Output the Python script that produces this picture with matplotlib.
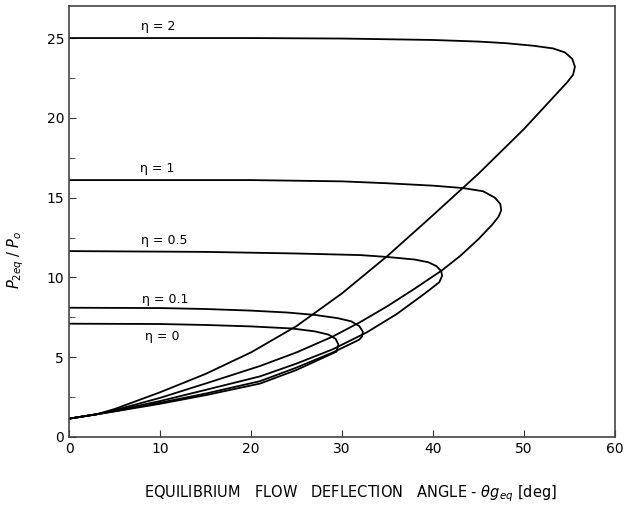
import numpy as np
import matplotlib.pyplot as plt
from matplotlib.ticker import MultipleLocator

# Polares de choque en equilibrio: cada curva va desde la rama fuerte (theta = 0, p alto)
# pasando por la deflexion maxima y regresando por la rama debil hasta p ~ 1.15

# eta = 2
theta_eta2 = [0, 10, 20, 30, 40, 45, 48, 51, 53.2, 54.5, 55.3, 55.6, 55.4, 54.7,
              50, 45, 40, 35, 30, 25, 20, 15, 10, 5, 3, 0]
p_eta2 = [25.0, 25.0, 25.0, 24.97, 24.88, 24.78, 24.68, 24.52, 24.35, 24.1, 23.7, 23.2, 22.7, 22.2,
          19.3, 16.5, 13.9, 11.35, 9.0, 6.95, 5.3, 3.95, 2.8, 1.75, 1.42, 1.15]

# eta = 1
theta_eta1 = [0, 10, 20, 30, 35, 40, 43.3, 45.5, 46.8, 47.4, 47.5, 47.2, 46.5,
              45, 43, 41, 38, 35, 32, 29, 25, 21, 15, 10, 5, 3, 0]
p_eta1 = [16.1, 16.1, 16.1, 16.02, 15.9, 15.75, 15.6, 15.4, 15.0, 14.6, 14.2, 13.8, 13.3,
          12.4, 11.35, 10.45, 9.3, 8.2, 7.2, 6.3, 5.3, 4.45, 3.35, 2.45, 1.68, 1.42, 1.15]

# eta = 0.5
theta_eta05 = [0, 15, 25, 32, 35, 38, 39.5, 40.4, 40.9, 41.0, 40.7,
               39, 36, 32.7, 29, 25, 21, 15, 10, 5, 3, 0]
p_eta05 = [11.65, 11.6, 11.5, 11.4, 11.28, 11.12, 10.95, 10.7, 10.4, 10.1, 9.7,
           8.95, 7.7, 6.55, 5.5, 4.6, 3.8, 2.95, 2.25, 1.65, 1.42, 1.15]

# eta = 0.1
theta_eta01 = [0, 10, 15, 20, 24, 27, 29.5, 31, 31.9, 32.3, 32.2, 31.9,
               29, 25, 21, 15, 10, 5, 3, 0]
p_eta01 = [8.1, 8.08, 8.02, 7.92, 7.8, 7.65, 7.45, 7.25, 6.95, 6.6, 6.3, 6.1,
           5.3, 4.35, 3.5, 2.72, 2.15, 1.62, 1.42, 1.15]

# eta = 0
theta_eta0 = [0, 10, 15, 20, 24.5, 27, 28.5, 29.3, 29.6, 29.4,
              25, 21, 15, 10, 5, 3, 0]
p_eta0 = [7.1, 7.08, 7.02, 6.93, 6.8, 6.62, 6.42, 6.15, 5.8, 5.35,
          4.2, 3.35, 2.62, 2.08, 1.6, 1.42, 1.15]

# etiquetas de cada curva (texto, theta, p)
etiquetas = [('η = 2', 9.8, 25.7), ('η = 1', 9.7, 16.8), ('η = 0.5', 10.5, 12.3),
             ('η = 0.1', 10.6, 8.6), ('η = 0', 10.2, 6.3)]

fig = plt.figure(figsize=(6.39, 5.12), dpi=100)
ax = fig.add_axes([0.108, 0.1465, 0.8544, 0.8415])

for th, p in [(theta_eta2, p_eta2), (theta_eta1, p_eta1), (theta_eta05, p_eta05),
              (theta_eta01, p_eta01), (theta_eta0, p_eta0)]:
    ax.plot(th, p, color='black', lw=1.3, solid_joinstyle='round')

for texto, th, p in etiquetas:
    ax.text(th, p, texto, fontsize=9, ha='center', va='center')

ax.set_xlim(0, 60)
ax.set_ylim(0, 27)
ax.xaxis.set_major_locator(MultipleLocator(10))
ax.yaxis.set_major_locator(MultipleLocator(5))
ax.yaxis.set_minor_locator(MultipleLocator(2.5))
ax.tick_params(which='both', direction='in', labelsize=10, color='#333333')
ax.tick_params(which='major', length=5)
ax.tick_params(which='minor', length=4)
for s in ax.spines.values():
    s.set_color('#444444')
    s.set_linewidth(1.2)

ax.set_xlabel(r'EQUILIBRIUM   FLOW   DEFLECTION   ANGLE - $\theta g_{eq}$ [deg]',
              fontsize=10.5)
ax.xaxis.set_label_coords(0.515, -0.108)
ax.set_ylabel(r'$P_{2eq}\;/\;P_o$', fontsize=10.5)
ax.yaxis.set_label_coords(-0.078, 0.41)

plt.savefig('out.png', dpi=100)
